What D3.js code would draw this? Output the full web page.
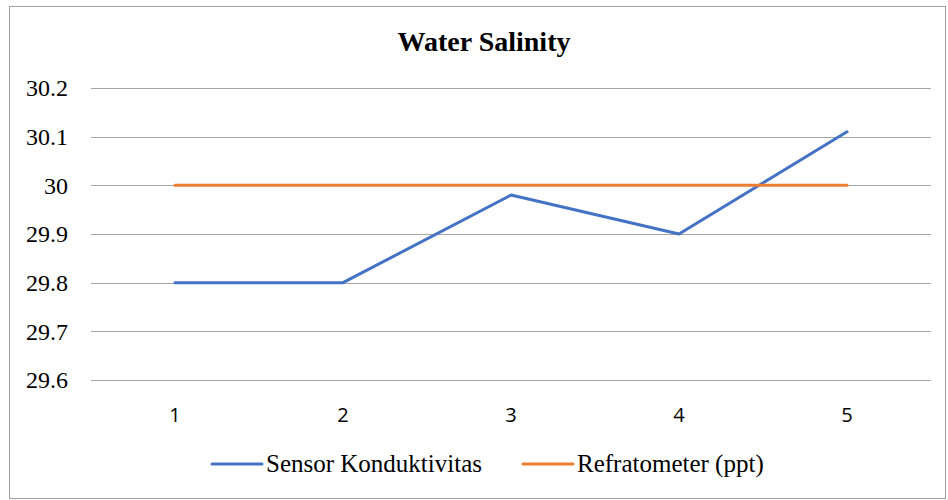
<!DOCTYPE html>
<html>
<head>
  <title>Water Salinity</title>
  <script src="https://d3js.org/d3.v7.min.js"></script>
  <style>
    body { margin: 0; background: #fff; }
    .serifText { font-family: "Liberation Serif", "DejaVu Serif", serif; }
    .sansText { font-family: "Open Sans", "Liberation Sans", sans-serif; }
  </style>
</head>
<body>
<script type="text/javascript">
  var categories = ["1", "2", "3", "4", "5"];
  var sensorValues = [29.8, 29.8, 29.98, 29.9, 30.11];
  var refraValues = [30, 30, 30, 30, 30];
  var yTicks = [29.6, 29.7, 29.8, 29.9, 30, 30.1, 30.2];
  var seriesNames = ["Sensor Konduktivitas", "Refratometer (ppt)"];
  var seriesColors = ["#4472C4", "#ED7D31"];

  var w = 948, h = 500;
  var plotLeft = 91, plotRight = 931, plotTop = 88, plotBottom = 380;

  var svg = d3.select("body").append("svg")
    .attr("width", w)
    .attr("height", h);

  svg.append("rect")
    .attr("x", 9.5).attr("y", 6.5)
    .attr("width", 936).attr("height", 492)
    .attr("fill", "#fff")
    .attr("stroke", "#a0a0a0");

  var x = d3.scaleBand().domain(categories).range([plotLeft, plotRight]);
  var y = d3.scaleLinear().domain([29.6, 30.2]).range([plotBottom, plotTop]);

  // gridlines
  svg.selectAll("line.grid")
    .data(yTicks)
    .enter()
    .append("line")
    .attr("class", "grid")
    .attr("x1", plotLeft).attr("x2", plotRight)
    .attr("y1", function(d){ return Math.round(y(d)) + 0.5; })
    .attr("y2", function(d){ return Math.round(y(d)) + 0.5; })
    .attr("stroke", "#a6a6a6")
    .attr("stroke-width", 1);

  // y labels
  svg.selectAll("text.ylab")
    .data(yTicks)
    .enter()
    .append("text")
    .attr("class", "ylab serifText")
    .attr("x", 68)
    .attr("y", function(d){ return y(d); })
    .attr("dy", "0.35em")
    .attr("text-anchor", "end")
    .attr("font-size", 24)
    .attr("fill", "#000")
    .text(function(d){ return d3.format("")(d); });

  // x labels
  svg.selectAll("text.xlab")
    .data(categories)
    .enter()
    .append("text")
    .attr("class", "xlab sansText")
    .attr("x", function(d){ return x(d) + x.bandwidth() / 2; })
    .attr("y", 422)
    .attr("text-anchor", "middle")
    .attr("font-size", 20)
    .attr("fill", "#000")
    .text(function(d){ return d; });

  var line = d3.line()
    .x(function(d, i){ return x(categories[i]) + x.bandwidth() / 2; })
    .y(function(d){ return y(d); });

  [sensorValues, refraValues].forEach(function(vals, k){
    svg.append("path")
      .datum(vals)
      .attr("d", line)
      .attr("fill", "none")
      .attr("stroke", seriesColors[k])
      .attr("stroke-width", 3)
      .attr("stroke-linejoin", "round")
      .attr("stroke-linecap", "round");
  });

  // title
  svg.append("text")
    .attr("class", "serifText")
    .attr("x", 484)
    .attr("y", 51)
    .attr("text-anchor", "middle")
    .attr("font-size", 28)
    .attr("font-weight", "bold")
    .text("Water Salinity");

  // legend
  var legX = [212, 523];
  seriesNames.forEach(function(name, k){
    svg.append("line")
      .attr("x1", legX[k]).attr("x2", legX[k] + 50)
      .attr("y1", 464).attr("y2", 464)
      .attr("stroke", seriesColors[k])
      .attr("stroke-width", 3)
      .attr("stroke-linecap", "round");
    svg.append("text")
      .attr("class", "serifText")
      .attr("x", legX[k] + 54)
      .attr("y", 472)
      .attr("font-size", 25)
      .attr("fill", "#000")
      .text(name);
  });
</script>
</body>
</html>
